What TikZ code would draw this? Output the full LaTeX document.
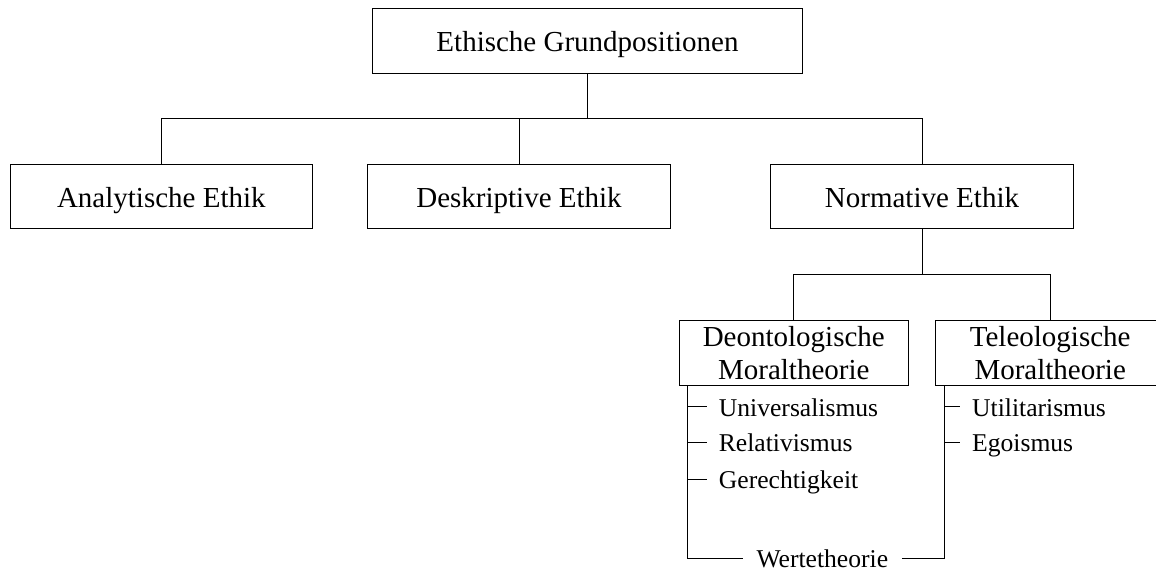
\documentclass[tikz,border=0pt]{standalone}
\usepackage{fontspec}
\setmainfont{Liberation Serif}
\usetikzlibrary{calc}
\tikzset{
  box/.style={draw, line width=1pt, inner sep=0pt, minimum height=64.3pt,
    font=\fontsize{29}{33}\selectfont, align=center},
  box1/.style={draw, line width=1pt, inner sep=0pt, minimum height=64.3pt,
    font=\fontsize{29}{33}\selectfont, text height=21pt, text depth=0pt},
  item/.style={inner xsep=12pt, inner ysep=0pt, text height=19pt, text depth=0pt,
    font=\fontsize{25.6}{30}\selectfont},
  conn/.style={line width=1pt}
}
\begin{document}
\begin{tikzpicture}[x=1pt, y=-1pt]
\useasboundingbox (0,0) rectangle (1156,570);
% level 0
\node[box1, minimum width=430.4pt] (top) at (587.5,40.85) {Ethische Grundpositionen};
% level 1
\node[box1, minimum width=302.7pt] (ana) at (161.35,196.5) {Analytische Ethik};
\node[box1, minimum width=302.7pt] (des) at (519,196.5) {Deskriptive Ethik};
\node[box1, minimum width=302.7pt] (nor) at (922,196.5) {Normative Ethik};
% level 2
\node[box, minimum width=229pt] (deo) at (793.8,352.85) {Deontologische\\Moraltheorie};
\node[box, minimum width=229pt] (teo) at (1050.2,352.85) {Teleologische\\Moraltheorie};
% items
\node[item, anchor=west] (uni) at (706.7,406.7) {Universalismus};
\node[item, anchor=west] (rel) at (706.7,442.3) {Relativismus};
\node[item, anchor=west] (ger) at (706.7,479) {Gerechtigkeit};
\node[item, anchor=west] (uti) at (960,406.7) {Utilitarismus};
\node[item, anchor=west] (ego) at (960,442.3) {Egoismus};
\node[item, inner xsep=13.5pt] (wert) at (822.3,558.3) {Wertetheorie};
% bus lines
\path ($(top.south)!0.5!(top.south |- ana.north)$) coordinate (b1);
\draw[conn] (top.south) -- (b1);
\draw[conn] (ana.north) |- (b1);
\draw[conn] (des.north) |- (b1);
\draw[conn] (nor.north) |- (b1);
\path ($(nor.south)!0.5!(nor.south |- deo.north)$) coordinate (b2);
\draw[conn] (nor.south) -- (b2);
\draw[conn] (deo.north) |- (b2);
\draw[conn] (teo.north) |- (b2);
% side lines
\coordinate (dtop) at ($(deo.south west)+(9,0)$);
\coordinate (ttop) at ($(teo.south west)+(9.3,0)$);
\draw[conn] (dtop) -- (dtop |- wert.west) -- (wert.west);
\draw[conn] (wert.east) -- (wert.east -| ttop) -- (ttop);
\draw[conn] (uni.west -| dtop) -- (uni.west);
\draw[conn] (rel.west -| dtop) -- (rel.west);
\draw[conn] (ger.west -| dtop) -- (ger.west);
\draw[conn] (uti.west -| ttop) -- (uti.west);
\draw[conn] (ego.west -| ttop) -- (ego.west);
\end{tikzpicture}
\end{document}
